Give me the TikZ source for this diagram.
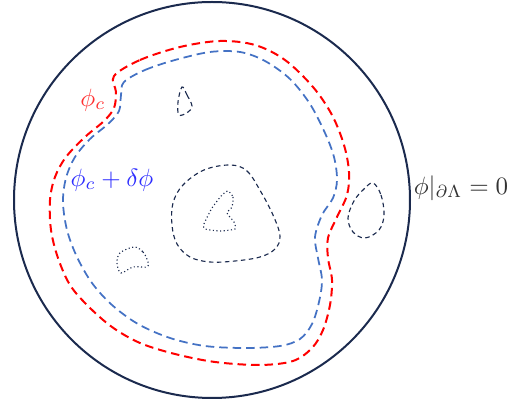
\documentclass[tikz,border=0pt]{standalone}
\usetikzlibrary{calc}
\definecolor{navy}{HTML}{1B2A4E}
\definecolor{cblue}{HTML}{4472C4}
\definecolor{lblue}{HTML}{2F2FFF}
\definecolor{lred}{HTML}{FF3030}
\begin{document}
\begin{tikzpicture}[x=0.4pt,y=-0.4pt,
  boundary/.style={draw=navy,line width=0.8pt},
  redcurve/.style={draw=red,line width=0.8pt,dash pattern=on 3.4pt off 2pt},
  bluecurve/.style={draw=cblue,line width=0.7pt,dash pattern=on 3.4pt off 2pt},
  island/.style={draw=navy,line width=0.45pt,dash pattern=on 1.8pt off 1.4pt},
  hole/.style={draw=navy,line width=0.45pt,densely dotted},
  lbl/.style={inner sep=0pt}]
\useasboundingbox (0,0) rectangle (521,405);
\draw[boundary] (212,200) circle [radius=198*0.4pt];
% red critical curve
\draw[redcurve] plot[smooth cycle,tension=0.55] coordinates {
(114,76) (140,60) (180,47) (220,41) (255,45) (285,60) (313,87) (332,115) (344,145) (349,172) (347,195) (337,217) (328,238) (328,258) (332,280) (330,305) (323,330) (312,348) (293,361) (260,365) (215,362) (175,354) (140,343) (112,327) (88,306) (70,285) (58,258) (51,230) (50,200) (55,177) (66,157) (85,137) (104,121) (114,108) (116,92)};
% blue perturbed curve
\draw[bluecurve] plot[smooth cycle,tension=0.55] coordinates {
(124,82) (145,70) (175,60) (210,52) (240,52) (265,61) (290,79) (310,104) (325,133) (334,157) (337,180) (333,198) (322,215) (315,237) (318,258) (322,280) (319,302) (312,324) (300,339) (280,346) (245,348) (205,346) (170,338) (138,324) (112,305) (92,283) (77,257) (67,230) (63,202) (66,178) (75,157) (90,139) (108,124) (119,111) (121,95)};
% small top island
\draw[island] plot[smooth cycle,tension=0.6] coordinates {
(182,87) (187,95) (192,106) (188,112) (179,115) (178,102)};
% big central island
\draw[island] plot[smooth cycle,tension=0.6] coordinates {
(230,165) (247,171) (261,192) (273,215) (280,236) (275,249) (260,257) (235,261) (210,262) (190,257) (177,244) (172,225) (173,203) (183,185) (204,170)};
% right island
\draw[island] plot[smooth cycle,tension=0.6] coordinates {
(373,183) (381,195) (384,215) (379,230) (365,238) (353,232) (348,218) (354,201) (364,189)};
% inner dotted hole
\draw[hole] plot[smooth cycle,tension=0.35] coordinates {
(228,191) (233,197) (232,207) (227,213) (234,222) (235,229) (220,231) (205,229) (204,224) (212,208) (222,195)};
% bottom-left dotted hole
\draw[hole] plot[smooth cycle,tension=0.55] coordinates {
(134,247) (143,252) (148,262) (147,267) (133,267) (121,273) (117,263) (120,253)};
% labels
\node[lbl,text=lred] (pc) at (93,100) {$\phi_c$};
\node[lbl,text=lblue] (pcd) at (112,180) {$\phi_c+\delta\phi$};
\node[lbl,text=black!80] (bc) at (461,188) {$\phi|_{\partial\Lambda}=0$};
\end{tikzpicture}
\end{document}
